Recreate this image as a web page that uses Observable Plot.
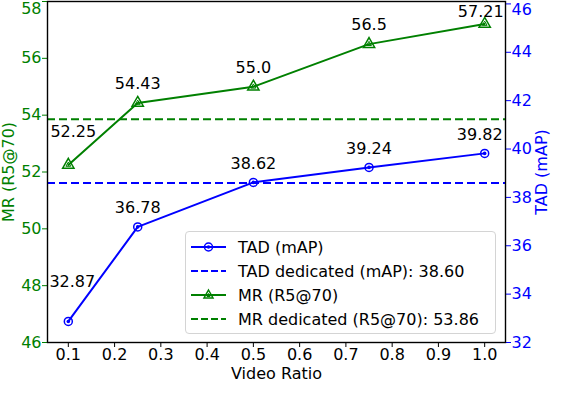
<!DOCTYPE html>
<html><head><meta charset="utf-8">
<script src="https://cdn.jsdelivr.net/npm/d3@7"></script>
<script src="https://cdn.jsdelivr.net/npm/@observablehq/plot@0.6"></script>
<style>
body{margin:0;background:#fff;font-family:"DejaVu Sans",sans-serif;}
#wrap{position:relative;width:568px;height:412px;}
.legend{position:absolute;left:185px;top:231px;width:311px;height:103px;border:1px solid #d4d4d4;border-radius:4px;background:rgba(255,255,255,0.85);font-size:16px;color:#000;padding-top:3px;box-sizing:border-box;}
.row{height:24px;display:flex;align-items:center;}
.row svg{margin-left:5px;margin-right:12px;flex:none;}
</style>
</head><body>
<div id="wrap"></div>
<script>
const ratios = [0.1, 0.25, 0.5, 0.75, 1.0];
const tadValues = [32.87, 36.78, 38.62, 39.24, 39.82];
const mrValues = [52.25, 54.43, 55.0, 56.5, 57.21];
const tadDedicated = 38.60;
const mrDedicated = 53.86;
const xTicks = [0.1, 0.2, 0.3, 0.4, 0.5, 0.6, 0.7, 0.8, 0.9, 1.0];
const mrTicks = [46, 48, 50, 52, 54, 56, 58];
const tadTicks = [32, 34, 36, 38, 40, 42, 44, 46];
const legendLabels = ["TAD (mAP)", "TAD dedicated (mAP): 38.60", "MR (R5@70)", "MR dedicated (R5@70): 53.86"];

const BLUE = "#0000ff", GREEN = "#008000";
const mrDomain = [46, 58], tadDomain = [32, 46.1];
const toLeft = t => mrDomain[0] + (t - tadDomain[0]) * (mrDomain[1] - mrDomain[0]) / (tadDomain[1] - tadDomain[0]);
const fromLeft = v => tadDomain[0] + (v - mrDomain[0]) * (tadDomain[1] - tadDomain[0]) / (mrDomain[1] - mrDomain[0]);
const fmt = v => Number.isInteger(v) ? v.toFixed(1) : String(v);

const tad = ratios.map((x, i) => ({x, y: toLeft(tadValues[i]), v: tadValues[i], i}));
const mr = ratios.map((x, i) => ({x, y: mrValues[i], v: mrValues[i], i}));
const last = ratios.length - 1;
const mid = d => d.i > 0 && d.i < last;
const mrTop = mrTicks[mrTicks.length - 1];
const tadTop = tadTicks[tadTicks.length - 1];

const chart = Plot.plot({
  width: 568, height: 412,
  marginLeft: 47, marginRight: 63, marginTop: 1, marginBottom: 70,
  style: {fontFamily: "DejaVu Sans", fontSize: "16px", background: "white", color: "black"},
  x: {domain: [0.055, 1.045]},
  y: {domain: mrDomain},
  marks: [
    Plot.axisX(xTicks, {tickSize: 5, tickPadding: 1, tickFormat: d3.format(".1f"), label: null, fontSize: 16}),
    Plot.axisY(mrTicks, {anchor: "left", tickSize: 5, tickPadding: 1, label: null, color: GREEN, fontSize: 16, tickFormat: v => v === mrTop ? "" : String(v)}),
    Plot.text([mrTop], {y: d => d, frameAnchor: "left", textAnchor: "end", dx: -6, dy: 7, text: d => String(d), fill: GREEN, fontSize: 16}),
    Plot.axisY(tadTicks.map(toLeft), {anchor: "right", tickSize: 5, tickPadding: 1, label: null, color: BLUE, fontSize: 16, tickFormat: v => { const t = Math.round(fromLeft(v)); return t === tadTop ? "" : String(t); }}),
    Plot.text([tadTop], {y: d => toLeft(d), frameAnchor: "right", textAnchor: "start", dx: 6, dy: 6, text: d => String(d), fill: BLUE, fontSize: 16}),
    Plot.ruleY([toLeft(tadDedicated)], {stroke: BLUE, strokeWidth: 2, strokeDasharray: "8,4"}),
    Plot.ruleY([mrDedicated], {stroke: GREEN, strokeWidth: 2, strokeDasharray: "8,4"}),
    Plot.line(tad, {x: "x", y: "y", stroke: BLUE, strokeWidth: 2}),
    Plot.line(mr, {x: "x", y: "y", stroke: GREEN, strokeWidth: 2}),
    Plot.dot(tad, {x: "x", y: "y", r: 4, stroke: BLUE, fill: "none", strokeWidth: 1.5}),
    Plot.dot(tad, {x: "x", y: "y", r: 1.8, fill: BLUE}),
    Plot.dot(mr, {x: "x", y: "y", r: 4.2, symbol: "triangle", stroke: GREEN, fill: "none", strokeWidth: 1.5}),
    Plot.dot(mr, {x: "x", y: "y", r: 1.8, symbol: "triangle", stroke: GREEN, fill: "none", strokeWidth: 1}),
    Plot.text(mr, {filter: mid, x: "x", y: "y", text: d => fmt(d.v), dy: -19, fill: "black", fontSize: 16}),
    Plot.text(mr, {filter: d => d.i === 0, x: "x", y: "y", text: d => fmt(d.v), dy: -33, dx: 5, fill: "black", fontSize: 16}),
    Plot.text(mr, {filter: d => d.i === last, x: "x", y: "y", text: d => fmt(d.v), dy: -12, dx: -4, fill: "black", fontSize: 16}),
    Plot.text(tad, {filter: mid, x: "x", y: "y", text: d => fmt(d.v), dy: -19, fill: "black", fontSize: 16}),
    Plot.text(tad, {filter: d => d.i === 0, x: "x", y: "y", text: d => fmt(d.v), dy: -40, dx: 4, fill: "black", fontSize: 16}),
    Plot.text(tad, {filter: d => d.i === last, x: "x", y: "y", text: d => fmt(d.v), dy: -19, dx: -5, fill: "black", fontSize: 16}),
    Plot.text(["MR (R5@70)"], {frameAnchor: "left", textAnchor: "middle", lineAnchor: "middle", rotate: -90, dx: -39, fill: GREEN, fontSize: 16}),
    Plot.text(["TAD (mAP)"], {frameAnchor: "right", textAnchor: "middle", lineAnchor: "middle", rotate: -90, dx: 36, fill: BLUE, fontSize: 16}),
    Plot.text(["Video Ratio"], {frameAnchor: "bottom", textAnchor: "middle", lineAnchor: "middle", dy: 31, fill: "black", fontSize: 16}),
    Plot.frame({stroke: "black", strokeWidth: 1.4})
  ]
});
const wrap = document.getElementById("wrap");
wrap.appendChild(chart);

const samples = [
  `<line x1="0" y1="12" x2="35" y2="12" stroke="${BLUE}" stroke-width="2"/><circle cx="17.5" cy="12" r="4" fill="none" stroke="${BLUE}" stroke-width="1.5"/><circle cx="17.5" cy="12" r="1.8" fill="${BLUE}"/>`,
  `<line x1="0" y1="12" x2="35" y2="12" stroke="${BLUE}" stroke-width="2" stroke-dasharray="7,3"/>`,
  `<line x1="0" y1="12" x2="35" y2="12" stroke="${GREEN}" stroke-width="2"/><path d="M17.5,7 L22,15 L13,15 Z" fill="none" stroke="${GREEN}" stroke-width="1.5"/><path d="M17.5,10.5 L19,13.5 L16,13.5 Z" fill="none" stroke="${GREEN}" stroke-width="1"/>`,
  `<line x1="0" y1="12" x2="35" y2="12" stroke="${GREEN}" stroke-width="2" stroke-dasharray="7,3"/>`
];
const legend = document.createElement("div");
legend.className = "legend";
legend.innerHTML = legendLabels.map((t, i) => `<div class="row"><svg width="35" height="24">${samples[i]}</svg><span>${t}</span></div>`).join("");
wrap.appendChild(legend);
</script>
</body></html>
